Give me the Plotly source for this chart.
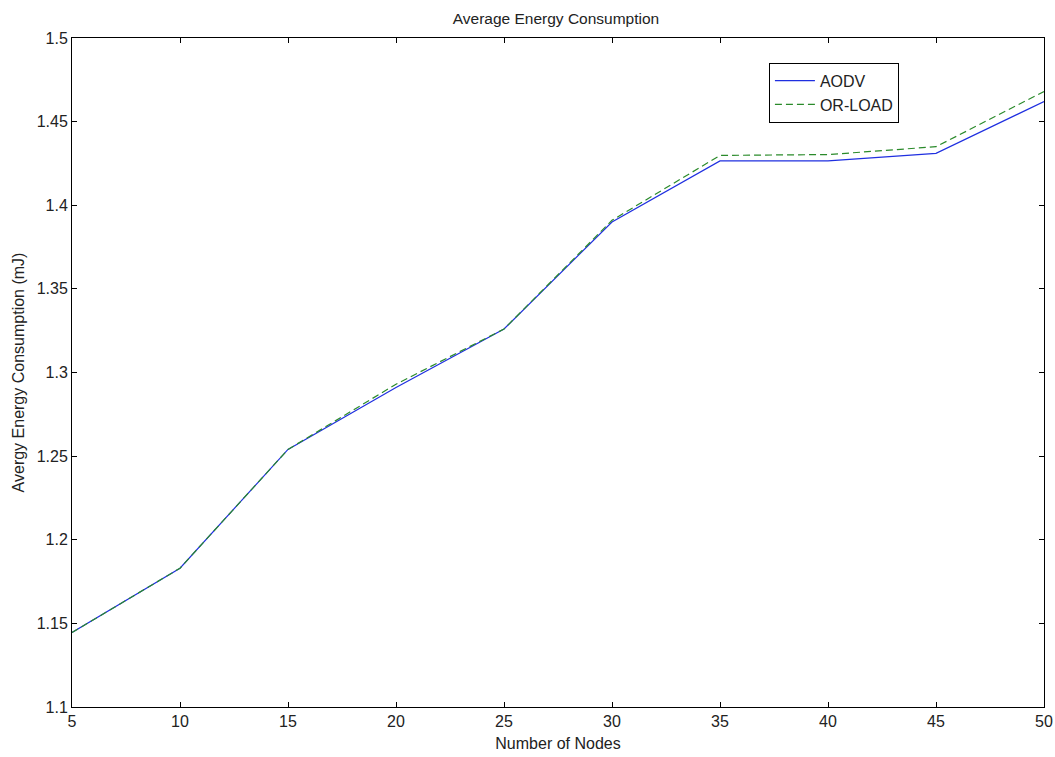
import plotly.graph_objects as go

nodes = [5, 10, 15, 20, 25, 30, 35, 40, 45, 50]
aodv = [1.1445, 1.183, 1.254, 1.291, 1.326, 1.390, 1.4265, 1.4265, 1.431, 1.462]
or_load = [1.1445, 1.183, 1.254, 1.293, 1.326, 1.391, 1.4298, 1.4303, 1.4350, 1.468]

x_ticks = [5, 10, 15, 20, 25, 30, 35, 40, 45, 50]
y_ticks = [1.1, 1.15, 1.2, 1.25, 1.3, 1.35, 1.4, 1.45, 1.5]
y_ticktext = ["1.1", "1.15", "1.2", "1.25", "1.3", "1.35", "1.4", "1.45", "1.5"]

FONT = "Liberation Sans, Arial, sans-serif"
FS = 16

fig = go.Figure()
fig.add_trace(go.Scatter(x=nodes, y=aodv, mode="lines", name="AODV",
                         line=dict(color="#1f2fe0", width=1.2)))
fig.add_trace(go.Scatter(x=nodes, y=or_load, mode="lines", name="OR-LOAD",
                         line=dict(color="#2a8a2a", width=1.2, dash="7px,4px")))

axis_common = dict(showline=True, linecolor="black", linewidth=1, mirror="ticks",
                   ticks="inside", ticklen=5, tickcolor="black", showgrid=False,
                   zeroline=False, automargin=False,
                   tickfont=dict(family=FONT, size=FS, color="#222"))

fig.update_layout(
    width=1055, height=757, autosize=False,
    margin=dict(l=72, r=11, t=38, b=50, autoexpand=False),
    paper_bgcolor="white", plot_bgcolor="white",
    title=dict(text="Average Energy Consumption", x=0.527, xanchor="center",
               y=0.976, yanchor="middle",
               font=dict(family=FONT, size=15.5, color="#222")),
    xaxis=dict(range=[5, 50], tickvals=x_ticks,
               title=dict(text="Number of Nodes", standoff=8,
                          font=dict(family=FONT, size=FS, color="#222")),
               **axis_common),
    yaxis=dict(range=[1.1, 1.5], tickvals=y_ticks, ticktext=y_ticktext,
               title=dict(text="Avergy Energy Consumption (mJ)", standoff=8,
                          font=dict(family=FONT, size=FS, color="#222")),
               **axis_common),
    legend=dict(x=0.717, y=0.963, xanchor="left", yanchor="top",
                bgcolor="white", bordercolor="black", borderwidth=1,
                font=dict(family=FONT, size=FS, color="#222"),
                tracegroupgap=0, itemwidth=40),
    showlegend=True,
)

fig.write_html("out.html", config={"displayModeBar": False},
               post_script="document.body.style.margin='0px';document.body.style.overflow='hidden';")
